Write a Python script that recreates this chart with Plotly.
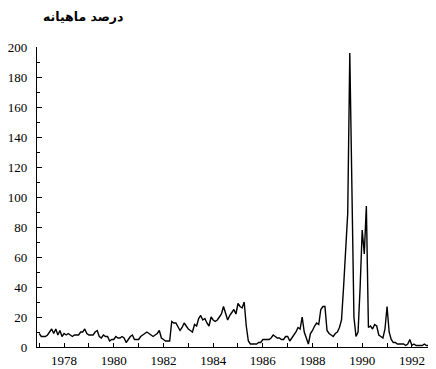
import plotly.graph_objects as go
import pandas as pd

title_text = "درصد ماهیانه"

start_month = "1977-01-01"
monthly_values = [
    # 1977
    9, 7, 7, 7, 8, 10, 12, 9, 12, 8, 11, 7,
    # 1978
    9, 8, 9, 8, 7, 8, 8, 8, 10, 10, 12, 9,
    # 1979
    8, 8, 8, 10, 11, 7, 6, 8, 7, 7, 4, 5,
    # 1980
    5, 7, 6, 6, 7, 6, 3, 5, 7, 8, 5, 5,
    # 1981
    5, 7, 8, 9, 10, 9, 8, 7, 8, 9, 11, 6,
    # 1982
    5, 4, 4, 4, 17, 16, 16, 13, 11, 13, 16, 14,
    # 1983
    12, 11, 10, 15, 14, 19, 21, 18, 19, 16, 14, 20,
    # 1984
    18, 17, 18, 20, 22, 27, 23, 18, 21, 23, 25, 22,
    # 1985
    29, 27, 26, 30, 14, 4, 2, 2, 2, 2, 3, 3,
    # 1986
    5, 5, 5, 5, 6, 8, 7, 6, 6, 5, 5, 7,
    # 1987
    7, 4, 6, 8, 10, 13, 12, 20, 10, 6, 2, 9,
    # 1988
    11, 14, 16, 15, 25, 27, 27, 11, 9, 8, 7, 9,
    # 1989
    10, 13, 18, 40, 62, 89, 196, 95, 20, 7, 10, 40,
    # 1990
    78, 62, 94, 13, 14, 12, 15, 14, 8, 7, 6, 12,
    # 1991
    27, 10, 5, 3, 3, 2, 2, 2, 2, 1, 2, 5,
    # 1992
    1, 2, 1, 1, 1, 1, 2, 1, 1, 1, 1,
]

year_ticks = list(range(1977, 1993))
year_labels = [str(y) if y % 2 == 0 else "" for y in year_ticks]
y_ticks = [0, 20, 40, 60, 80, 100, 120, 140, 160, 180, 200]

dates = pd.date_range(start_month, periods=len(monthly_values), freq="MS")
x_years = [d.year + (d.month - 1) / 12 for d in dates]

fig = go.Figure()
fig.add_trace(go.Scatter(
    x=x_years, y=monthly_values, mode="lines",
    line=dict(color="black", width=1.4),
    showlegend=False, hoverinfo="skip",
))

tick_font = dict(family="Times New Roman", size=13, color="black")

# page body has an 8px default margin, so the figure is shrunk by 8px
fig.update_layout(
    width=428, height=361,
    margin=dict(l=29, r=0, t=39, b=22),
    paper_bgcolor="white", plot_bgcolor="white",
    xaxis=dict(
        range=[1976.91, 1992.97],
        tickvals=year_ticks, ticktext=year_labels,
        ticks="inside", ticklen=4, tickwidth=1, tickcolor="black",
        showline=True, linecolor="black", linewidth=1.2,
        showgrid=False, zeroline=False, automargin=False,
        tickfont=tick_font, ticklabelstandoff=1,
    ),
    yaxis=dict(
        range=[0, 200],
        tickvals=y_ticks,
        ticks="inside", ticklen=5, tickwidth=1, tickcolor="black",
        minor=dict(dtick=10, tick0=0, ticks="inside", ticklen=3, tickcolor="black", showgrid=False),
        showline=True, linecolor="black", linewidth=1.2,
        showgrid=False, zeroline=False, automargin=False,
        tickfont=tick_font, ticklabelstandoff=6,
    ),
    annotations=[dict(
        text="<b>" + title_text + "</b>",
        xref="paper", yref="paper", x=0.115, y=1.1,
        xanchor="center", yanchor="middle", showarrow=False,
        font=dict(family="DejaVu Sans", size=12.5, color="black"),
    )],
)

fig.write_html("out.html")
